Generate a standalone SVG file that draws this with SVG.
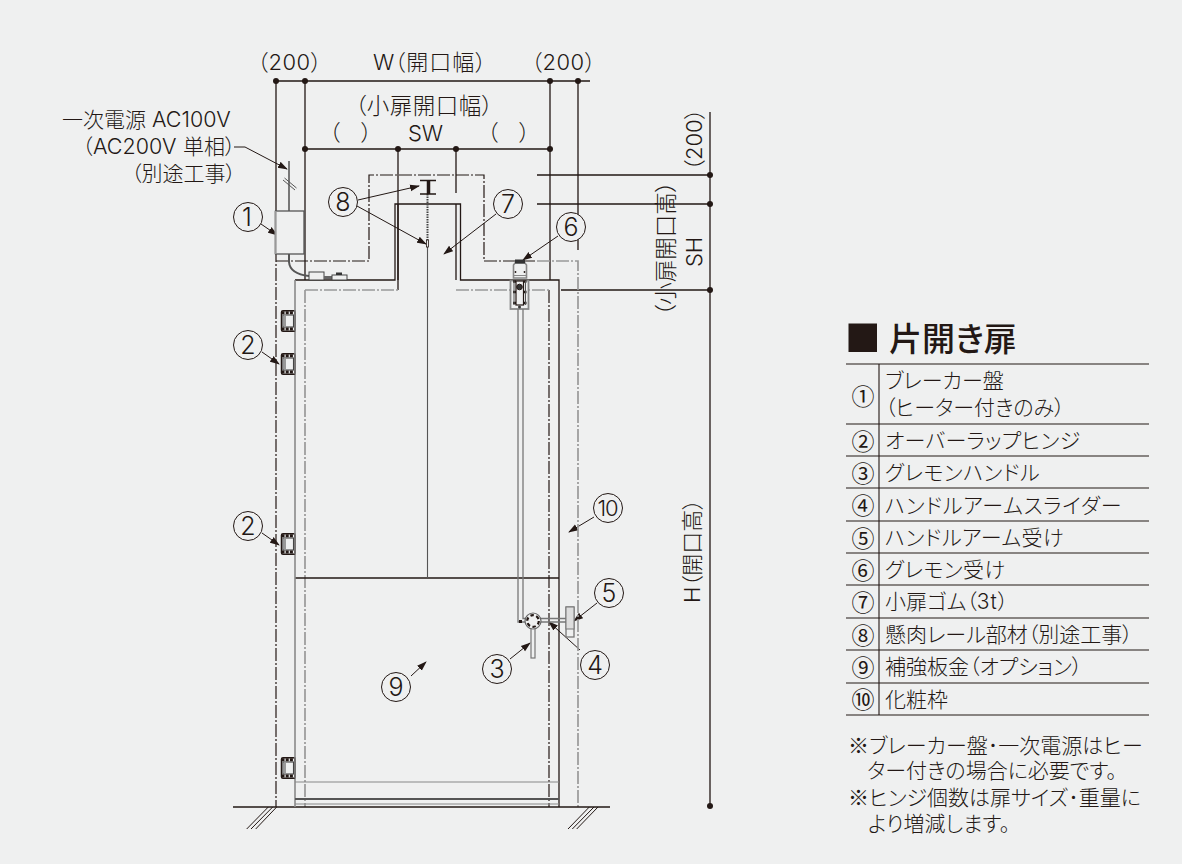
<svg xmlns="http://www.w3.org/2000/svg" xmlns:xlink="http://www.w3.org/1999/xlink" width="1182" height="864" viewBox="0 0 1182 864">
<style>
text{font-family:"Noto Sans CJK JP","Liberation Sans",sans-serif;fill:#231815;font-weight:300;font-feature-settings:"palt"}
.l{font-family:Inter,"Liberation Sans",sans-serif;font-weight:300}
.d{font-size:22px}
.s{font-size:21.500px}
.t{font-size:21px}
.sp{letter-spacing:.5px}
.n{font-size:25px;text-anchor:middle;font-family:Inter,"Liberation Sans",sans-serif;font-weight:300}
.tn{font-size:23px;text-anchor:middle;font-weight:400;font-feature-settings:normal}
.k{stroke:#231815;stroke-width:1.3;fill:none}
.g{stroke:#8a8a8a;stroke-width:1.6;fill:none}
.dd{stroke:#231815;stroke-width:1.2;fill:none;stroke-dasharray:13 2 2 2}
.gd{stroke:#999;stroke-width:1.7;fill:none;stroke-dasharray:13 2 2 2}
.c{fill:#eff0f0;stroke:#231815;stroke-width:1}
.ar{stroke:#231815;stroke-width:1;fill:none;marker-end:url(#a)}
.dot{fill:#231815}
</style>
<defs>
<marker id="a" markerWidth="10" markerHeight="8" refX="9" refY="4" orient="auto" markerUnits="userSpaceOnUse"><path d="M0 0.6L10 4L0 7.4Z" fill="#231815"/></marker>
<g id="hinge"><rect x="1" y="0.800" width="13.500" height="20.400" rx="1.500" fill="#eff0f0" stroke="#231815" stroke-width="1.500"/><rect x="2.500" y="5" width="10.500" height="12" fill="#eff0f0" stroke="#444" stroke-width="1.100"/><rect x="3" y="5.500" width="2.500" height="11" fill="#999"/><path d="M1 2.800h13.500M1 19h13.500" stroke="#231815" stroke-width="3" stroke-dasharray="3 1.200"/><path d="M14.500 0V21" stroke="#888" stroke-width="1.500"/></g>
</defs>
<rect width="1182" height="864" fill="#eff0f0"/>
<g id="connectors">
<path class="k" d="M276 81H590M305 149H550M276 81V211M305 81V280M398 149V290M456 149V193M550 81V280M578 81V250M710 112V807M537 175H710M537 204H710M561 290H710"/>
<g class="dot"><circle cx="276" cy="81" r="3"/><circle cx="305" cy="81" r="3"/><circle cx="550" cy="81" r="3"/><circle cx="578" cy="81" r="3"/><circle cx="305" cy="149" r="3"/><circle cx="398" cy="149" r="3"/><circle cx="456" cy="149" r="3"/><circle cx="550" cy="149" r="3"/><circle cx="710" cy="175" r="3"/><circle cx="710" cy="204" r="3"/><circle cx="710" cy="290" r="3"/><circle cx="710" cy="806" r="3"/></g>
<path class="ar" d="M234 147H245L287 169"/>
<path class="ar" d="M261 224L277 235"/>
<path class="ar" d="M358 200L419 186"/>
<path class="ar" d="M357 206L426 244"/>
<path class="ar" d="M496 214L444 254"/>
<path class="ar" d="M558 236L523 260"/>
<path class="ar" d="M262 352L279 364"/>
<path class="ar" d="M262 533L279 545"/>
<path class="ar" d="M510 659L530 643"/>
<path class="ar" d="M580 650L549 622"/>
<path class="ar" d="M597 603L574 621"/>
<path class="ar" d="M411 676L426 662"/>
<path class="ar" d="M594 517L569 532"/>
</g>
<g id="frame">
<path class="dd" d="M276 261H369V175H484V261H537M276 211V807M549 290V807"/>
<path class="gd" d="M537 261H578V807M305 290V807M305 290H398M456 290H549"/>
<path class="k" d="M295 280H395V204H460.500V280H559V807M398 204V280M456 204V280M295 578H559M233 807H610"/>
<path class="g" d="M295 280V807"/>
<path d="M295 782H559M295 804H559" stroke="#888" stroke-width="1.200" fill="none"/>
<path d="M295 799H559" stroke="#555" stroke-width="1.800"/>
<path d="M276.700 807L255.700 829M272.700 807L251 829M268.300 807L246.700 829M598 807L576.700 829M594 807L572.300 829M589.300 807L568 829" stroke="#231815" stroke-width="1"/>
<path d="M427.500 194V240" stroke="#444" stroke-width="2" stroke-dasharray="1.500 1"/>
<path d="M427.500 247V578" stroke="#555" stroke-width="1.100"/>
</g>
<g id="ibeam"><path d="M420 180.500H436M420 194H436" stroke="#231815" stroke-width="1.500"/><path d="M428.500 180V194" stroke="#231815" stroke-width="3.500"/><rect x="426.500" y="240" width="2" height="7" fill="#eff0f0" stroke="#231815" stroke-width="0.800"/></g>
<g id="breaker"><path d="M289 161V211" stroke="#777" stroke-width="2"/><path d="M283 180L295 190M284.500 178L296.500 188" stroke="#555" stroke-width="1"/><rect x="275.500" y="211" width="28.500" height="43" fill="#eff0f0" stroke="#555" stroke-width="1.300"/><path d="M275.500 211V254" stroke="#999" stroke-width="2"/><path d="M289 254V262Q290 274 309 276" fill="none" stroke="#555" stroke-width="2"/><rect x="309" y="272" width="15" height="8" fill="#eff0f0" stroke="#444" stroke-width="1"/><rect x="324" y="276" width="8" height="3" fill="#666"/><rect x="332" y="275" width="15" height="5" fill="#eff0f0" stroke="#444" stroke-width="1"/><rect x="336" y="272.500" width="6" height="2.500" fill="#333"/></g>
<g id="hinges"><use xlink:href="#hinge" x="280.500" y="310"/><use xlink:href="#hinge" x="280.500" y="353"/><use xlink:href="#hinge" x="280.500" y="533"/><use xlink:href="#hinge" x="280.500" y="757"/></g>
<g id="grelmon">
<path d="M513.500 265L515 263H525L526.500 265V278H513.500Z" fill="#eff0f0" stroke="#888" stroke-width="1.600"/><rect x="515" y="259.500" width="10" height="4" fill="#333"/><path d="M513.500 275.500H526.500" stroke="#888"/><circle cx="515.500" cy="272" r="0.900" fill="#231815"/><circle cx="524.500" cy="272" r="0.900" fill="#231815"/>
<rect x="510.500" y="280.500" width="18" height="28.500" fill="#eff0f0" stroke="#888" stroke-width="1.800"/>
<rect x="516" y="281" width="7.500" height="24" fill="#eff0f0" stroke="#231815" stroke-width="1.200"/><circle cx="519.500" cy="287" r="2.800" fill="#333" stroke="#231815"/><path d="M513 281.500h3M523.500 281.500h3M513 292h3M523.500 292h3M513 303h3M523.500 303h3" stroke="#231815" stroke-width="2.400"/><path d="M514 281V305M525.500 281V305" stroke="#555" stroke-width="1"/><circle cx="519.500" cy="307" r="1.500" fill="#333"/>
<path d="M518 309V622H566M523 309V618.500H566" stroke="#777" stroke-width="1.300" fill="none"/>
<rect x="566" y="607" width="8" height="30" fill="#eff0f0" stroke="#777" stroke-width="1.300"/><rect x="566" y="607" width="8" height="22" fill="#ddd" stroke="#777" stroke-width="1"/>
<rect x="531" y="628" width="4" height="30" fill="#eff0f0" stroke="#777" stroke-width="1.200"/>
<circle cx="533" cy="621" r="8" fill="#eff0f0" stroke="#666" stroke-width="1.200"/><circle cx="533" cy="621" r="5.800" fill="#eff0f0" stroke="#231815" stroke-width="2.200" stroke-dasharray="3.500 2.500"/>
<rect x="519" y="620" width="3" height="3" fill="#231815"/>
</g>
<g id="labels">
<text class="d" x="257" y="70" letter-spacing=".5">（<tspan class="l">200</tspan>）</text>
<text class="d" x="373" y="70"><tspan class="l">W</tspan><tspan letter-spacing="1">（開口幅）</tspan></text>
<text class="d" x="531" y="70" letter-spacing=".5">（<tspan class="l">200</tspan>）</text>
<text x="355" y="114" letter-spacing=".5" style="font-size:22.500px">（小扉開口幅）</text>
<text class="d" x="329" y="140">（</text><text class="d" x="361" y="140">）</text><text class="l d" x="425.500" y="141" text-anchor="middle">SW</text><text class="d" x="487" y="140">（</text><text class="d" x="519" y="140">）</text>
<text class="t" x="62" y="127">一次電源<tspan class="l s" x="152">AC100V</tspan></text>
<text class="t" x="82" y="154">（<tspan class="l s" x="93">AC200V</tspan><tspan x="183">単相）</tspan></text>
<text class="t" x="131" y="181">（別途工事）</text>
<text class="d" transform="translate(702 171) rotate(-90)">（<tspan class="l">200</tspan>）</text>
<text transform="translate(674 316) rotate(-90)" style="font-size:22.500px">（小扉開口高）</text>
<text class="l d" transform="translate(702 252) rotate(-90)" text-anchor="middle">SH</text>
<text class="d" transform="translate(700 603) rotate(-90)"><tspan class="l">H</tspan>（開口高）</text>
</g>
<g id="n1"><circle class="c" cx="248" cy="217" r="14.500"/><text class="n" x="247" y="226">1</text></g>
<g id="n2a"><circle class="c" cx="248" cy="345" r="14.500"/><text class="n" x="248" y="354">2</text></g>
<g id="n2b"><circle class="c" cx="248" cy="526" r="14.500"/><text class="n" x="248" y="535">2</text></g>
<g id="n3"><circle class="c" cx="497" cy="669" r="14.500"/><text class="n" x="497" y="678">3</text></g>
<g id="n4"><circle class="c" cx="595" cy="665" r="14.500"/><text class="n" x="595" y="674">4</text></g>
<g id="n5"><circle class="c" cx="609" cy="593" r="14.500"/><text class="n" x="609" y="602">5</text></g>
<g id="n6"><circle class="c" cx="571" cy="227" r="14.500"/><text class="n" x="571" y="236">6</text></g>
<g id="n7"><circle class="c" cx="508" cy="204" r="14.500"/><text class="n" x="508" y="213">7</text></g>
<g id="n8"><circle class="c" cx="343" cy="202" r="14.500"/><text class="n" x="343" y="211">8</text></g>
<g id="n9"><circle class="c" cx="396" cy="687" r="14.500"/><text class="n" x="396" y="696">9</text></g>
<g id="n10"><circle class="c" cx="608" cy="508" r="14.500"/><text class="n" x="607.500" y="516" style="font-size:22px;letter-spacing:-1px">10</text></g>
<g id="table">
<rect x="848.500" y="323.500" width="28.500" height="28.500" fill="#231815"/>
<text x="889" y="351" style="font-size:33px;font-weight:500">片開き扉</text>
<path d="M846 364H1149M846 424H1149M846 456H1149M846 488H1149M846 521H1149M846 553H1149M846 585H1149M846 618H1149M846 650H1149M846 683H1149M846 715H1149M879 364V715" stroke="#231815" stroke-width="1.100" fill="none"/>
<text class="tn" x="863" y="405">①</text><text class="t" x="885" y="388">ブレーカー盤</text><text class="t" x="885" y="415">（ヒーター付きのみ）</text>
<text class="tn" x="863" y="450">②</text><text class="t" x="885" y="448" letter-spacing=".3">オーバーラップヒンジ</text>
<text class="tn" x="863" y="482">③</text><text class="t sp" x="885" y="480">グレモンハンドル</text>
<text class="tn" x="863" y="514">④</text><text class="t" x="885" y="513" letter-spacing=".8">ハンドルアームスライダー</text>
<text class="tn" x="863" y="547">⑤</text><text class="t sp" x="885" y="545">ハンドルアーム受け</text>
<text class="tn" x="863" y="579">⑥</text><text class="t sp" x="885" y="577">グレモン受け</text>
<text class="tn" x="863" y="611">⑦</text><text class="t" x="885" y="609">小扉ゴム（<tspan class="l" letter-spacing="1">3t</tspan>）</text>
<text class="tn" x="863" y="644">⑧</text><text class="t" x="885" y="642">懸肉レール部材（別途工事）</text>
<text class="tn" x="863" y="676">⑨</text><text class="t" x="885" y="674">補強板金（オプション）</text>
<text class="tn" x="863" y="708">⑩</text><text class="t" x="885" y="707">化粧枠</text>
<text class="t" x="848" y="753">※ブレーカー盤･一次電源はヒー</text>
<text class="t" x="867" y="778">ター付きの場合に必要です。</text>
<text class="t" x="848" y="805">※ヒンジ個数は扉サイズ･重量に</text>
<text class="t" x="868" y="831">より増減します。</text>
</g>
</svg>
